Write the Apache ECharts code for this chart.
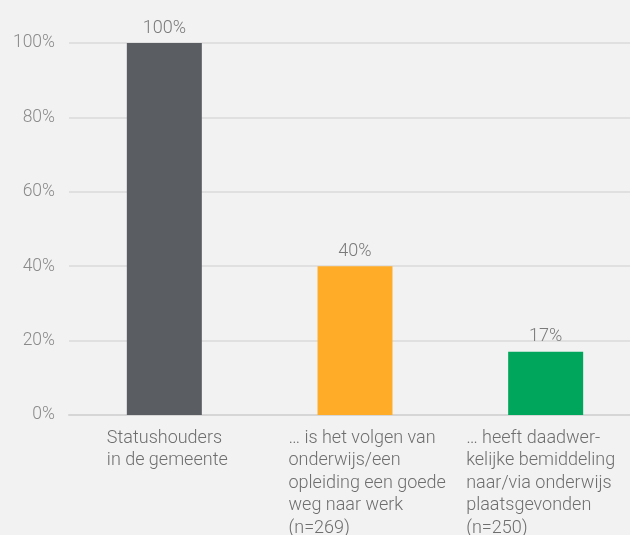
<!DOCTYPE html>
<html><head><meta charset="utf-8">
<script src="https://cdn.jsdelivr.net/npm/echarts@6/dist/echarts.min.js"></script>
<style>html,body{margin:0;padding:0;background:#f2f2f2}#c{width:630px;height:535px}</style>
</head><body><div id="c"></div>
<script>
const categories = [
  "Statushouders\nin de gemeente",
  "… is het volgen van\nonderwijs/een\nopleiding een goede\nweg naar werk\n(n=269)",
  "… heeft daadwer-\nkelijke bemiddeling\nnaar/via onderwijs\nplaatsgevonden\n(n=250)"
];
const values = [100, 40, 17];
const barColors = ["#5a5d62", "#ffad29", "#00a65b"];
const yTicks = [0, 20, 40, 60, 80, 100];
const labelBoxWidths = [115, 133, 159];

const chart = echarts.init(document.getElementById('c'));
chart.setOption({
  backgroundColor: '#f2f2f2',
  animation: false,
  grid: {left: 69, right: -11, top: 43, bottom: 120, containLabel: false, outerBoundsMode: 'none'},
  xAxis: {
    type: 'category',
    data: categories.map((c, i) => ({
      value: c,
      textStyle: {width: labelBoxWidths[i], align: 'center'}
    })),
    axisLine: {show: true, lineStyle: {color: '#d6d6d6', width: 2}},
    axisTick: {show: false},
    axisLabel: {
      interval: 0,
      margin: 12,
      color: '#6e6e6e',
      fontFamily: 'Roboto',
      fontWeight: 300,
      fontSize: 18,
      lineHeight: 22.5,
      verticalAlign: 'top',
      hideOverlap: false,
      formatter: v => v.split('\n').map(l => '{l|' + l + '}').join('\n'),
      rich: {l: {align: 'left', fontFamily: 'Roboto', fontWeight: 300, fontSize: 18, lineHeight: 22.5, color: '#6e6e6e'}}
    }
  },
  yAxis: {
    type: 'value',
    min: yTicks[0], max: yTicks[yTicks.length - 1], interval: 20,
    axisLine: {show: false},
    axisTick: {show: false},
    splitLine: {lineStyle: {color: '#dadada', width: 1.5}},
    axisLabel: {
      margin: 14,
      color: '#8a8a8a',
      fontFamily: 'Roboto',
      fontWeight: 300,
      fontSize: 17.5,
      formatter: v => v + '%'
    }
  },
  series: [{
    type: 'bar',
    barWidth: 75,
    data: values.map((v, i) => ({value: v, itemStyle: {color: barColors[i]}})),
    label: {
      show: true,
      position: 'top',
      distance: 6,
      color: '#7a7a7a',
      fontFamily: 'Roboto',
      fontWeight: 300,
      fontSize: 18,
      formatter: p => p.value + '%'
    }
  }]
});
</script></body></html>
